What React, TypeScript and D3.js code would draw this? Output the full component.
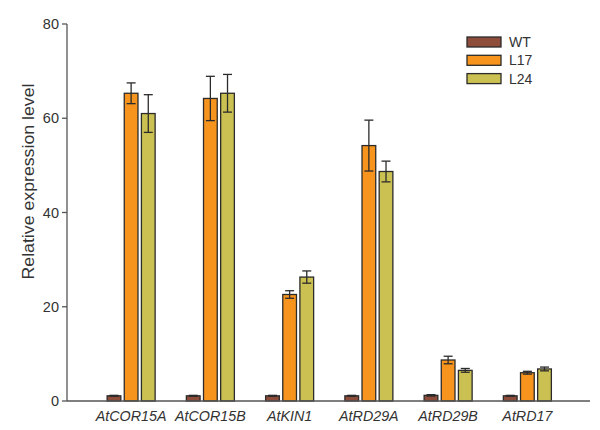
import React from "react";
import * as d3 from "d3";

const categories = ["AtCOR15A", "AtCOR15B", "AtKIN1", "AtRD29A", "AtRD29B", "AtRD17"];
const seriesNames = ["WT", "L17", "L24"];
const wtValues = [1.1, 1.1, 1.1, 1.1, 1.2, 1.1];
const wtErrors = [0.1, 0.1, 0.1, 0.1, 0.15, 0.1];
const l17Values = [65.3, 64.2, 22.6, 54.2, 8.7, 6.0];
const l17Errors = [2.2, 4.7, 0.8, 5.4, 0.8, 0.3];
const l24Values = [61.0, 65.3, 26.3, 48.7, 6.5, 6.8];
const l24Errors = [4.0, 4.0, 1.3, 2.2, 0.4, 0.4];
const yTicks = [0, 20, 40, 60, 80];
const colors = ["#8E4C3B", "#F7941E", "#CBC152"];

export default function App() {
  const W = 600, H = 430;
  const x0 = 67, x1 = 590;
  const y = d3.scaleLinear().domain([0, 80]).range([401, 24]);
  const xb = d3.scaleBand().domain(categories).range([91.5, 567]).paddingInner(0).paddingOuter(0);
  const inner = d3.scaleBand().domain(seriesNames).range([-24, 24]).paddingInner(0.2);
  const series = [
    { name: "WT", v: wtValues, e: wtErrors },
    { name: "L17", v: l17Values, e: l17Errors },
    { name: "L24", v: l24Values, e: l24Errors },
  ];
  const font = "Liberation Sans, Arial, sans-serif";
  return (
    <svg width={W} height={H} style={{ position: "absolute", left: 0, top: 0 }} fontFamily={font}>
      {series.map((s, si) =>
        categories.map((c, ci) => {
          const cx = xb(c)! + xb.bandwidth() / 2;
          const bx = cx + inner(s.name)!;
          const bw = inner.bandwidth();
          const top = y(s.v[ci]);
          const mid = bx + bw / 2;
          return (
            <g key={s.name + c}>
              <rect x={bx} y={top} width={bw} height={y(0) - top} fill={colors[si]} stroke="#2b2b2b" strokeWidth={1.3} />
              <line x1={mid} x2={mid} y1={y(s.v[ci] + s.e[ci])} y2={y(s.v[ci] - s.e[ci])} stroke="#2b2b2b" strokeWidth={1.3} />
              <line x1={mid - 4.5} x2={mid + 4.5} y1={y(s.v[ci] + s.e[ci])} y2={y(s.v[ci] + s.e[ci])} stroke="#2b2b2b" strokeWidth={1.3} />
              <line x1={mid - 4.5} x2={mid + 4.5} y1={y(s.v[ci] - s.e[ci])} y2={y(s.v[ci] - s.e[ci])} stroke="#2b2b2b" strokeWidth={1.3} />
            </g>
          );
        })
      )}
      <line x1={x0} x2={x1} y1={y(0)} y2={y(0)} stroke="#555" strokeWidth={1.3} />
      <line x1={x0} x2={x0} y1={y(80)} y2={y(0)} stroke="#555" strokeWidth={1.3} />
      {yTicks.map((t) => (
        <g key={t}>
          <line x1={x0 - 5} x2={x0} y1={y(t)} y2={y(t)} stroke="#555" strokeWidth={1.3} />
          <text x={59} y={y(t)} dy="0.36em" textAnchor="end" fontSize={14.5} fill="#333">{t}</text>
        </g>
      ))}
      <text transform={`translate(33.5,181.5) rotate(-90)`} textAnchor="middle" fontSize={16} textLength={196} lengthAdjust="spacingAndGlyphs" fill="#333">Relative expression level</text>
      {categories.map((c) => (
        <text key={c} x={xb(c)! + xb.bandwidth() / 2} y={421} textAnchor="middle" fontSize={14.3} fontStyle="italic" fill="#333">{c}</text>
      ))}
      {seriesNames.map((n, i) => (
        <g key={n} transform={`translate(467,${37 + i * 18.3})`}>
          <rect x={0} y={0} width={34} height={10} fill={colors[i]} stroke="#2b2b2b" strokeWidth={1.3} />
          <text x={42} y={5} dy="0.36em" fontSize={14} fill="#333">{n}</text>
        </g>
      ))}
    </svg>
  );
}
